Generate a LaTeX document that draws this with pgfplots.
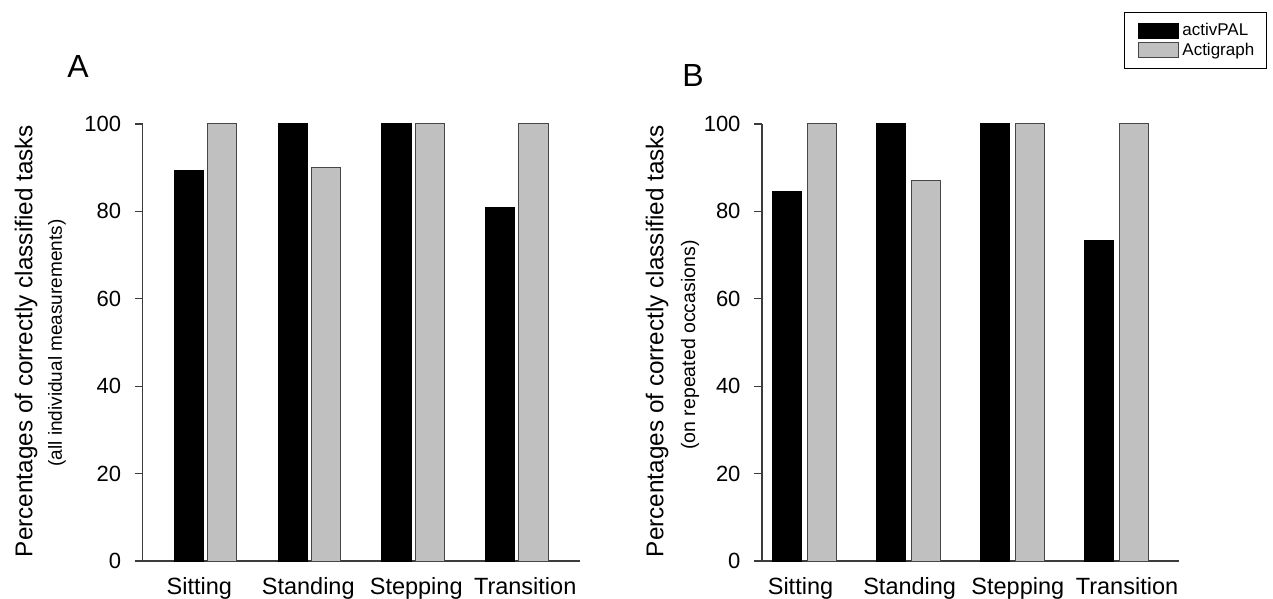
\documentclass[border=0pt]{standalone}
\usepackage{fontspec}
\setmainfont{Liberation Sans}
\usepackage{pgfplots}
\pgfplotsset{compat=1.18}
\definecolor{bargrey}{RGB}{192,192,192}
\definecolor{edgegrey}{RGB}{70,70,70}
\definecolor{axisgrey}{RGB}{60,60,60}

\pgfplotsset{
  panel/.style={
    scale only axis, anchor=south west,
    height=437pt,
    ymin=0, ymax=100, ytick={0,20,...,100},
    axis x line=bottom, axis y line=left,
    axis line style={-, draw=axisgrey, line width=1.1pt},
    xticklabels={Sitting,Standing,Stepping,Transition},
    x tick style={draw=none},
    y tick style={draw=axisgrey, line width=1.1pt},
    tick align=outside, major tick length=8pt,
    /pgf/number format/assume math mode=true,
    yticklabel style={font=\fontsize{22}{25}\selectfont, xshift=-10pt},
    xticklabel style={font=\fontsize{23.5}{26}\selectfont, yshift=-5pt},
    ybar, bar width=0.28,
    clip=false,
  },
  blackbar/.style={fill=black, draw=black, line width=1pt},
  greybar/.style={fill=bargrey, draw=edgegrey, line width=1pt},
  boxlegend/.style={legend image code/.code={\path (0pt,0pt); \draw[##1, line width=0.8pt] (3pt,-7.5pt) rectangle (43pt,7.5pt); \path (45pt,0pt);}},
}

\begin{document}
\begin{tikzpicture}
\path[use as bounding box] (0,0) rectangle (1273pt,599pt);

% Panel A
\begin{axis}[panel, at={(142.7pt,38pt)}, width=437.3pt, xmin=-0.605, xmax=3.608,
  xtick={-0.06,0.99,2.03,3.08}]
\addplot[blackbar, bar shift=-0.16] coordinates {(0,89.3) (1,100) (2,100) (3,80.9)};
\addplot[greybar, bar shift=0.16] coordinates {(0,100) (1,90) (2,100) (3,100)};
\end{axis}

% Panel B
\begin{axis}[panel, at={(762pt,38pt)}, width=417pt, xmin=-0.41, xmax=3.60,
  xtick={-0.04,1.01,2.05,3.10},
  legend style={at={(0.868,1.256)}, anchor=north west, draw=black, line width=0.9pt,
    fill=white, font=\fontsize{17}{19}\selectfont, inner xsep=10pt, inner ysep=10pt,
    row sep=4pt, nodes={inner xsep=2pt, inner ysep=0pt}, cells={anchor=west}},
  legend cell align=left]
\addplot[blackbar, bar shift=-0.17, boxlegend]
  coordinates {(0,84.5) (1,100) (2,100) (3,73.4)};
\addlegendentry{activPAL}
\addplot[greybar, bar shift=0.17, boxlegend]
  coordinates {(0,100) (1,87) (2,100) (3,100)};
\addlegendentry{Actigraph}
\end{axis}

% Panel letters
\node[font=\fontsize{32}{36}\selectfont] at (78pt,532pt) {A};
\node[font=\fontsize{32}{36}\selectfont] at (693pt,523pt) {B};

% Y-axis labels
\node[rotate=90, font=\fontsize{24.3}{27}\selectfont] at (26pt,258pt) {Percentages of correctly classified tasks};
\node[rotate=90, font=\fontsize{19}{22}\selectfont] at (57pt,256pt) {(all individual measurements)};
\node[rotate=90, font=\fontsize{24.3}{27}\selectfont] at (657pt,258pt) {Percentages of correctly classified tasks};
\node[rotate=90, font=\fontsize{19.5}{22}\selectfont] at (690pt,254pt) {(on repeated occasions)};
\end{tikzpicture}
\end{document}
